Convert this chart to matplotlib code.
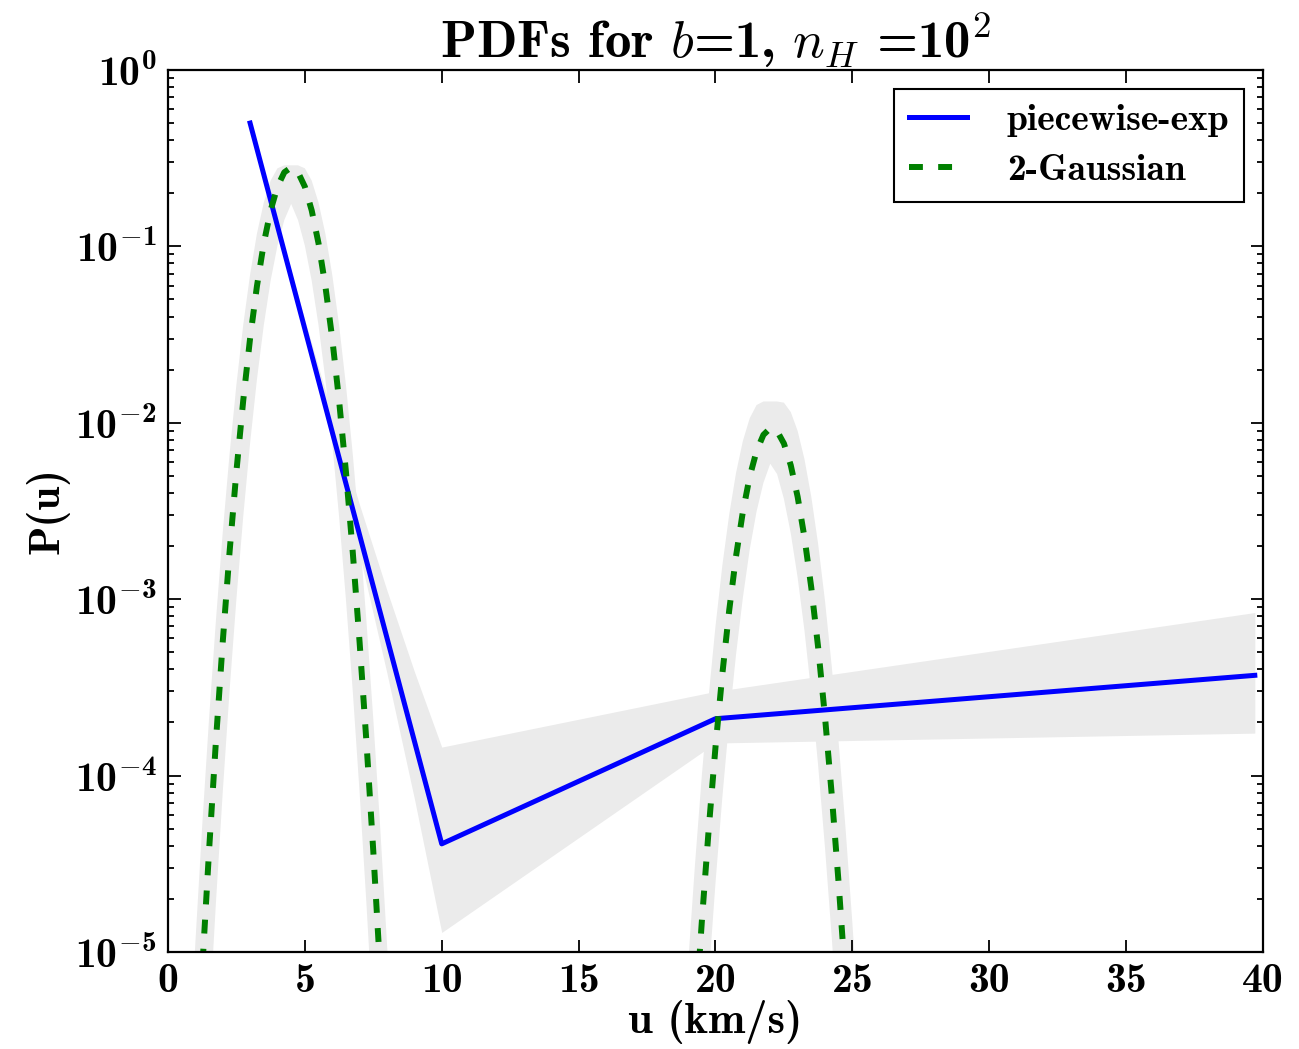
import numpy as np
import matplotlib
matplotlib.use('Agg')
import matplotlib.pyplot as plt
from matplotlib.ticker import FuncFormatter

plt.rcParams['font.family'] = 'cmb10'
plt.rcParams['mathtext.fontset'] = 'custom'
plt.rcParams['mathtext.rm'] = 'cmb10'
plt.rcParams['mathtext.bf'] = 'cmb10'
plt.rcParams['mathtext.it'] = 'cmmi10'
plt.rcParams['mathtext.sf'] = 'cmr10'
plt.rcParams['mathtext.default'] = 'regular'
plt.rcParams['axes.unicode_minus'] = False
plt.rcParams['lines.scale_dashes'] = False

# piecewise-exp fit: break points and values
u_pw = [3.0, 10.0, 20.0, 39.7]
p_pw = [0.50, 4.1e-5, 2.1e-4, 3.7e-4]

# spread of the piecewise-exp fits
u_pw_band = [3.0, 4.0, 5.0, 6.0, 7.0, 8.0, 9.0, 10.0, 20.0, 39.7]
p_pw_lo = [0.50, 0.128, 0.0318, 7.73e-3, 1.79e-3, 3.80e-4, 7.41e-5, 1.29e-5, 1.53e-4, 1.74e-4]
p_pw_hi = [0.50, 0.137, 0.0382, 1.117e-2, 3.42e-3, 1.12e-3, 3.89e-4, 1.45e-4, 3.0e-4, 8.4e-4]

# 2-Gaussian fit, low-velocity component
u_g1 = [0.75, 1.0, 1.25, 1.5, 1.75, 2.0, 2.25, 2.5, 2.75, 3.0, 3.25, 3.5, 3.75, 4.0, 4.25, 4.5,
        4.75, 5.0, 5.25, 5.5, 5.75, 6.0, 6.25, 6.5, 6.75, 7.0, 7.25, 7.5, 7.75, 8.0, 8.25]
g1 = [2.46e-07, 1.49e-06, 7.92e-06, 3.73e-05, 1.55e-04, 5.70e-04, 1.85e-03, 5.30e-03, 0.0134, 0.0301,
      0.0595, 0.104, 0.160, 0.218, 0.263, 0.280, 0.263, 0.218, 0.160, 0.104, 0.0595, 0.0301, 0.0134,
      5.30e-03, 1.85e-03, 5.70e-04, 1.55e-04, 3.73e-05, 7.92e-06, 1.49e-06, 2.46e-07]
g1_lo = [1.65e-08, 1.15e-07, 7.13e-07, 3.90e-06, 1.88e-05, 8.02e-05, 3.02e-04, 1.00e-03, 2.95e-03,
         7.67e-03, 0.0176, 0.0357, 0.0639, 0.101, 0.141, 0.174, 0.141, 0.101, 0.0639, 0.0357, 0.0176,
         7.67e-03, 2.95e-03, 1.00e-03, 3.02e-04, 8.02e-05, 1.88e-05, 3.90e-06, 7.13e-07, 1.15e-07, 1.65e-08]
g1_hi = [2.16e-06, 1.12e-05, 5.16e-05, 2.09e-04, 7.50e-04, 2.38e-03, 6.65e-03, 0.0164, 0.0359, 0.0692,
         0.118, 0.177, 0.236, 0.277, 0.288, 0.288, 0.288, 0.277, 0.236, 0.177, 0.118, 0.0692, 0.0359,
         0.0164, 6.65e-03, 2.38e-03, 7.50e-04, 2.09e-04, 5.16e-05, 1.12e-05, 2.16e-06]

# 2-Gaussian fit, high-velocity component
u_g2 = [18.75, 19.0, 19.25, 19.5, 19.75, 20.0, 20.25, 20.5, 20.75, 21.0, 21.25, 21.5, 21.75, 22.0,
        22.25, 22.5, 22.75, 23.0, 23.25, 23.5, 23.75, 24.0, 24.25, 24.5, 24.75, 25.0, 25.25]
g2 = [1.91e-07, 9.21e-07, 3.93e-06, 1.48e-05, 4.92e-05, 1.45e-04, 3.76e-04, 8.62e-04, 1.75e-03,
      3.13e-03, 4.95e-03, 6.91e-03, 8.54e-03, 9.31e-03, 8.97e-03, 7.63e-03, 5.74e-03, 3.81e-03,
      2.24e-03, 1.16e-03, 5.32e-04, 2.15e-04, 7.69e-05, 2.43e-05, 6.78e-06, 1.67e-06, 3.64e-07]
g2_lo = [1.43e-08, 8.14e-08, 4.09e-07, 1.81e-06, 7.11e-06, 2.46e-05, 7.52e-05, 2.03e-04, 4.85e-04,
         1.02e-03, 1.91e-03, 3.14e-03, 4.56e-03, 5.86e-03, 5.12e-03, 3.70e-03, 2.36e-03, 1.33e-03,
         6.64e-04, 2.92e-04, 1.14e-04, 3.90e-05, 1.19e-05, 3.18e-06, 7.53e-07, 1.58e-07, 2.91e-08]
g2_hi = [2.10e-06, 8.60e-06, 3.11e-05, 9.95e-05, 2.81e-04, 7.02e-04, 1.55e-03, 3.01e-03, 5.19e-03,
         7.88e-03, 0.0106, 0.0126, 0.0132, 0.0132, 0.0132, 0.0130, 0.0115, 9.00e-03, 6.22e-03,
         3.80e-03, 2.05e-03, 9.77e-04, 4.11e-04, 1.53e-04, 5.03e-05, 1.46e-05, 3.74e-06]

fig = plt.figure(figsize=(12.99, 10.49), dpi=100)
ax = fig.add_axes([0.1293, 0.0925, 0.843, 0.8408])

band = '#ebebeb'
ax.fill_between(u_pw_band, p_pw_lo, p_pw_hi, color=band, lw=0)
ax.fill_between(u_g1, g1_lo, g1_hi, color=band, lw=0)
ax.fill_between(u_g2, g2_lo, g2_hi, color=band, lw=0)

ax.plot(u_pw, p_pw, color='#0000ff', lw=3.6, label='piecewise-exp')
ax.plot(u_g1, g1, color='#008000', lw=4.3, dashes=(10, 11), label='2-Gaussian')
ax.plot(u_g2, g2, color='#008000', lw=4.3, dashes=(10, 11))

ax.set_yscale('log')
ax.set_xlim(0, 40)
ax.set_ylim(1e-5, 1)
ax.set_xticks(np.arange(0, 41, 5))
ax.yaxis.set_major_formatter(FuncFormatter(lambda v, pos: r'$\mathrm{10^{%d}}$' % round(np.log10(v))))

ax.tick_params(which='both', direction='in', top=True, right=True, width=1.3)
ax.tick_params(which='major', length=9, labelsize=30, pad=8)
ax.tick_params(which='minor', length=4.5)
for s in ax.spines.values():
    s.set_linewidth(1.6)

ax.set_xlabel('u (km/s)', fontsize=32, labelpad=0)
ax.set_ylabel('P(u)', fontsize=31, labelpad=4)
ax.set_title(r'PDFs for $\mathit{b}$=1, $\mathit{n}_{\mathit{H}}$ =10$^{\mathsf{2}}$', fontsize=38, pad=8)

leg = ax.legend(loc='upper right', fontsize=27, fancybox=False, framealpha=1,
                edgecolor='black', handlelength=1.55, handletextpad=1.05,
                borderaxespad=0.5, borderpad=0.4, labelspacing=0.45)
leg.get_frame().set_linewidth(1.5)

fig.savefig('out.png', dpi=100)
